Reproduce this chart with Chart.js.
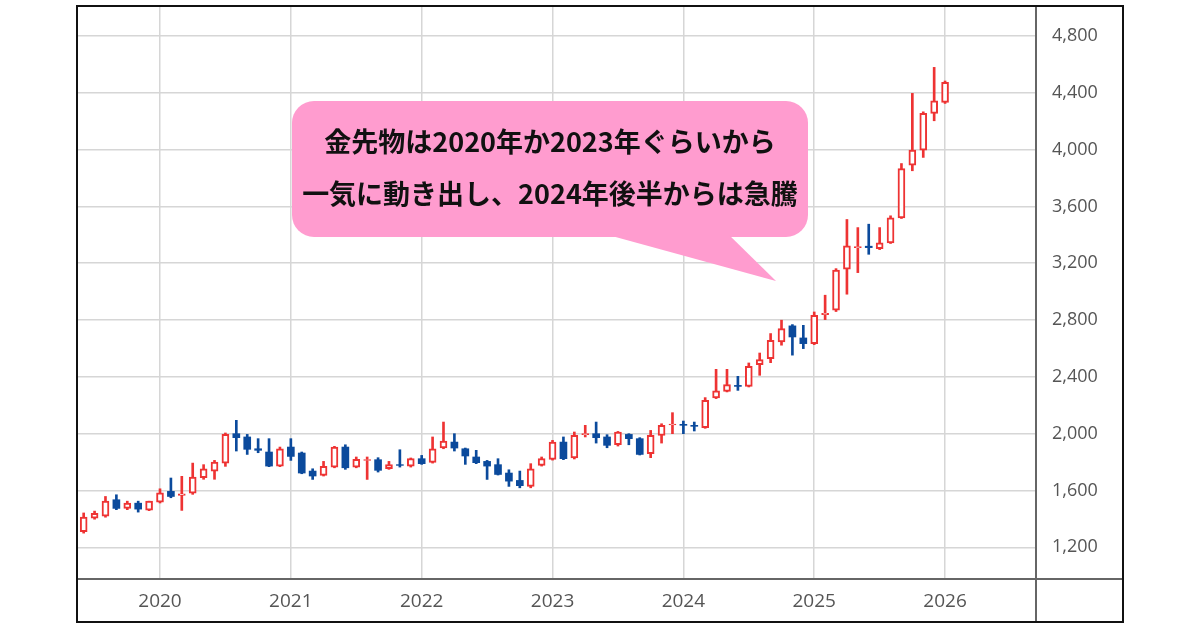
<!DOCTYPE html>
<html lang="ja">
<head>
  <meta charset="UTF-8" />
  <title>金先物 月足チャート</title>
  <script src="https://cdn.jsdelivr.net/npm/chart.js"></script>
  <style>
    body {
      margin: 0;
      width: 1200px;
      height: 630px;
      overflow: hidden;
      position: relative;
      background: #fff;
      font-family: "Noto Sans CJK JP", sans-serif;
    }
    .frame {
      position: absolute;
      left: 76px;
      top: 5px;
      width: 1044px;
      height: 614px;
      border: 2px solid #111;
    }
    .chart-box {
      position: absolute;
      left: 0;
      top: 0;
      width: 1044px;
      height: 614px;
    }
    .balloon {
      position: absolute;
      left: 0;
      top: 0;
      pointer-events: none;
    }
    .note {
      position: absolute;
      left: 292px;
      width: 516px;
      text-align: center;
      font-weight: bold;
      font-size: 27px;
      line-height: 27px;
      color: #111;
      white-space: nowrap;
    }
  </style>
</head>
<body>
  <div class="frame">
    <div class="chart-box"><canvas id="goldChart"></canvas></div>
  </div>

  <svg class="balloon" width="1200" height="630">
    <rect x="292" y="101" width="516" height="136" rx="22" ry="22" fill="#ff9ccf"/>
    <polygon points="590,230 776,281 724,230" fill="#ff9ccf"/>
  </svg>
  <div class="note" style="top:127px;">金先物は2020年か2023年ぐらいから</div>
  <div class="note" style="top:179px;">一気に動き出し、2024年後半からは急騰</div>

<script>
  // monthly candles, Jun 2019 - Jan 2026
  const months = [
    '2019-06','2019-07','2019-08','2019-09','2019-10','2019-11','2019-12',
    '2020-01','2020-02','2020-03','2020-04','2020-05','2020-06','2020-07','2020-08','2020-09','2020-10','2020-11','2020-12',
    '2021-01','2021-02','2021-03','2021-04','2021-05','2021-06','2021-07','2021-08','2021-09','2021-10','2021-11','2021-12',
    '2022-01','2022-02','2022-03','2022-04','2022-05','2022-06','2022-07','2022-08','2022-09','2022-10','2022-11','2022-12',
    '2023-01','2023-02','2023-03','2023-04','2023-05','2023-06','2023-07','2023-08','2023-09','2023-10','2023-11','2023-12',
    '2024-01','2024-02','2024-03','2024-04','2024-05','2024-06','2024-07','2024-08','2024-09','2024-10','2024-11','2024-12',
    '2025-01','2025-02','2025-03','2025-04','2025-05','2025-06','2025-07','2025-08','2025-09','2025-10','2025-11','2025-12',
    '2026-01'
  ];

  const opens = [
    1310, 1405, 1420, 1535, 1474, 1511, 1462,
    1518, 1594, 1566, 1582, 1690, 1737, 1793, 2000, 1977, 1894, 1871, 1772,
    1906, 1864, 1737, 1706, 1765, 1906, 1765, 1812, 1817, 1753, 1782, 1772,
    1824, 1798, 1899, 1941, 1894, 1836, 1805, 1782, 1723, 1671, 1629, 1777,
    1819, 1941, 1829, 1993, 2000, 1977, 1922, 1995, 1965, 1859, 1988, 2062,
    2066, 2059, 2042, 2251, 2298, 2340, 2333, 2486, 2529, 2646, 2759, 2674,
    2634, 2838, 2869, 3158, 3310, 3320, 3303, 3343, 3519, 3891, 3996, 4255,
    4332
  ];
  const highs = [
    1442, 1455, 1558, 1570, 1525, 1525, 1525,
    1612, 1688, 1700, 1793, 1782, 1812, 2005, 2094, 1995, 1965, 1965, 1906,
    1965, 1871, 1753, 1805, 1911, 1922, 1836, 1836, 1831, 1805, 1887, 1829,
    1847, 1977, 2082, 2000, 1899, 1883, 1812, 1824, 1746, 1737, 1789, 1836,
    1953, 1977, 2012, 2059, 2082, 1993, 2016, 2000, 1972, 2023, 2070, 2148,
    2089, 2082, 2254, 2453, 2453, 2404, 2498, 2568, 2705, 2799, 2768, 2763,
    2857, 2975, 3162, 3508, 3451, 3475, 3451, 3534, 3902, 4396, 4266, 4579,
    4483
  ];
  const lows = [
    1300, 1398, 1412, 1465, 1465, 1448, 1458,
    1512, 1549, 1460, 1573, 1679, 1679, 1770, 1878, 1854, 1866, 1768, 1768,
    1812, 1718, 1678, 1702, 1760, 1749, 1760, 1678, 1730, 1749, 1765, 1765,
    1784, 1793, 1894, 1878, 1784, 1789, 1678, 1709, 1629, 1619, 1619, 1772,
    1814, 1817, 1822, 1977, 1934, 1901, 1913, 1922, 1850, 1831, 1934, 2000,
    2000, 2019, 2038, 2247, 2294, 2305, 2329, 2411, 2500, 2623, 2553, 2599,
    2627, 2803, 2860, 2982, 3134, 3263, 3296, 3339, 3515, 3851, 3945, 4203,
    4325
  ];
  const closes = [
    1413, 1440, 1525, 1474, 1511, 1469, 1525,
    1584, 1558, 1577, 1695, 1753, 1800, 1995, 1972, 1890, 1883, 1772, 1894,
    1840, 1723, 1702, 1770, 1906, 1760, 1819, 1818, 1742, 1782, 1777, 1824,
    1789, 1894, 1948, 1899, 1843, 1796, 1772, 1713, 1666, 1634, 1753, 1824,
    1941, 1824, 1988, 2000, 1972, 1918, 2012, 1965, 1854, 1988, 2059, 2068,
    2059, 2052, 2235, 2301, 2345, 2333, 2474, 2521, 2658, 2740, 2681, 2634,
    2834, 2848, 3151, 3322, 3318, 3310, 3343, 3519, 3867, 3996, 4255, 4344,
    4473
  ];

  const yearTicks = [2020, 2021, 2022, 2023, 2024, 2025, 2026];
  const priceTicks = [1200, 1600, 2000, 2400, 2800, 3200, 3600, 4000, 4400, 4800];

  const UP = '#ee3333';
  const DOWN = '#0b4a9c';

  const isUp = i => closes[i] >= opens[i];
  const bodies = months.map((m, i) => ({ x: i, y: [opens[i], closes[i]] }));
  const wicks = months.map((m, i) => ({ x: i, y: [lows[i], highs[i]] }));

  // axis lines run through the label strips, like the source chart
  const axisLines = {
    id: 'axisLines',
    afterDraw(chart) {
      const { ctx, chartArea, width, height } = chart;
      ctx.save();
      ctx.strokeStyle = '#666';
      ctx.lineWidth = 2;
      ctx.beginPath();
      ctx.moveTo(0, chartArea.bottom);
      ctx.lineTo(width, chartArea.bottom);
      ctx.moveTo(chartArea.right, 0);
      ctx.lineTo(chartArea.right, height);
      ctx.stroke();
      ctx.restore();
    }
  };

  new Chart(document.getElementById('goldChart'), {
    type: 'bar',
    data: {
      datasets: [
        {
          label: 'body',
          data: bodies,
          order: 0,
          grouped: false,
          barThickness: 7,
          borderSkipped: false,
          borderWidth: ctx => isUp(ctx.dataIndex) ? 2 : 0,
          borderColor: ctx => isUp(ctx.dataIndex) ? UP : DOWN,
          backgroundColor: ctx => isUp(ctx.dataIndex) ? '#ffffff' : DOWN
        },
        {
          label: 'wick',
          data: wicks,
          order: 1,
          grouped: false,
          barThickness: 2,
          borderWidth: 0,
          backgroundColor: ctx => isUp(ctx.dataIndex) ? UP : DOWN
        }
      ]
    },
    options: {
      responsive: true,
      maintainAspectRatio: false,
      animation: false,
      layout: { padding: 0 },
      plugins: {
        legend: { display: false },
        tooltip: { enabled: false }
      },
      scales: {
        x: {
          type: 'linear',
          offset: false,
          min: -0.52,
          max: 87.34,
          afterBuildTicks: axis => {
            axis.ticks = yearTicks.map(y => ({ value: months.indexOf(y + '-01') }));
          },
          afterFit: scale => {
            scale.height = 42;
            scale.paddingLeft = 0;
            scale.paddingRight = 0;
          },
          grid: { offset: false, color: '#d6d6d6', lineWidth: 1.5, drawTicks: false },
          border: { display: false },
          ticks: {
            autoSkip: false,
            maxRotation: 0,
            padding: 11,
            color: '#555',
            font: { family: 'Open Sans', size: 19 },
            callback: v => months[v] ? months[v].slice(0, 4) : ''
          }
        },
        y: {
          position: 'right',
          min: 977,
          max: 5004,
          afterBuildTicks: axis => {
            axis.ticks = priceTicks.map(v => ({ value: v }));
          },
          afterFit: scale => {
            scale.width = 86;
            scale.paddingTop = 0;
            scale.paddingBottom = 0;
          },
          grid: { color: '#d6d6d6', lineWidth: 1.5, drawTicks: false },
          border: { display: false },
          ticks: {
            padding: 16,
            color: '#555',
            font: { family: 'Open Sans', size: 18 },
            callback: v => v.toLocaleString('en-US')
          }
        }
      }
    },
    plugins: [axisLines]
  });
</script>
</body>
</html>
